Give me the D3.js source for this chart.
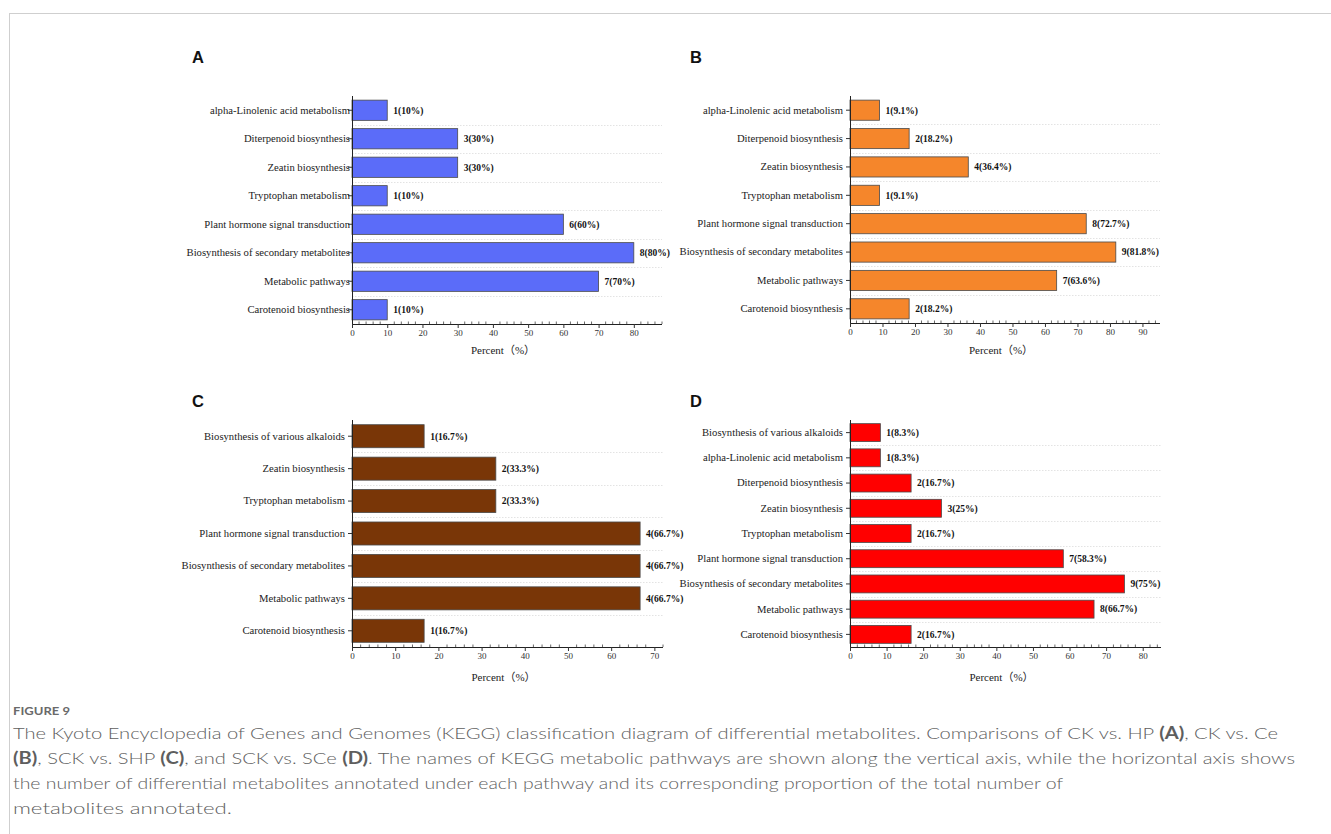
<!DOCTYPE html>
<html>
<head>
<meta charset="utf-8">
<script src="https://cdn.jsdelivr.net/npm/d3@7"></script>
<style>
  html, body { margin: 0; padding: 0; background: #fff; }
  svg { display: block; }
</style>
</head>
<body>
<svg id="fig" width="1331" height="834"></svg>
<script>
// KEGG pathway classes, counts and percentages for each comparison
const catsA = ["alpha-Linolenic acid metabolism", "Diterpenoid biosynthesis", "Zeatin biosynthesis", "Tryptophan metabolism", "Plant hormone signal transduction", "Biosynthesis of secondary metabolites", "Metabolic pathways", "Carotenoid biosynthesis"];
const countsA = [1, 3, 3, 1, 6, 8, 7, 1];
const pctA = [10, 30, 30, 10, 60, 80, 70, 10];

const catsB = ["alpha-Linolenic acid metabolism", "Diterpenoid biosynthesis", "Zeatin biosynthesis", "Tryptophan metabolism", "Plant hormone signal transduction", "Biosynthesis of secondary metabolites", "Metabolic pathways", "Carotenoid biosynthesis"];
const countsB = [1, 2, 4, 1, 8, 9, 7, 2];
const pctB = [9.1, 18.2, 36.4, 9.1, 72.7, 81.8, 63.6, 18.2];

const catsC = ["Biosynthesis of various alkaloids", "Zeatin biosynthesis", "Tryptophan metabolism", "Plant hormone signal transduction", "Biosynthesis of secondary metabolites", "Metabolic pathways", "Carotenoid biosynthesis"];
const countsC = [1, 2, 2, 4, 4, 4, 1];
const pctC = [16.7, 33.3, 33.3, 66.7, 66.7, 66.7, 16.7];

const catsD = ["Biosynthesis of various alkaloids", "alpha-Linolenic acid metabolism", "Diterpenoid biosynthesis", "Zeatin biosynthesis", "Tryptophan metabolism", "Plant hormone signal transduction", "Biosynthesis of secondary metabolites", "Metabolic pathways", "Carotenoid biosynthesis"];
const countsD = [1, 1, 2, 3, 2, 7, 9, 8, 2];
const pctD = [8.3, 8.3, 16.7, 25, 16.7, 58.3, 75, 66.7, 16.7];

const xTicks = [0, 10, 20, 30, 40, 50, 60, 70, 80, 90];
const axisTitle = "Percent\uFF08%\uFF09";

const svg = d3.select("#fig");
const serif = "'Liberation Serif', 'Times New Roman', 'Noto Sans CJK SC', serif";

// page frame
svg.append("line").attr("x1", 9).attr("x2", 1331).attr("y1", 13.5).attr("y2", 13.5)
  .attr("stroke", "#cfcfcf").attr("stroke-width", 1);
svg.append("line").attr("x1", 9.5).attr("x2", 9.5).attr("y1", 13).attr("y2", 834)
  .attr("stroke", "#cfcfcf").attr("stroke-width", 1);

const panels = [
  { letter: "A", cats: catsA, counts: countsA, pct: pctA, color: "#5b6cf9", x0: 352, x1: 662, max: 88, yTop: 96, yBot: 324, labelGap: 2, lx: 192, ly: 63, titleY: 354 },
  { letter: "B", cats: catsB, counts: countsB, pct: pctB, color: "#f5862b", x0: 850, x1: 1160, max: 95.4, yTop: 96, yBot: 323, labelGap: 7, lx: 690, ly: 63, titleY: 354 },
  { letter: "C", cats: catsC, counts: countsC, pct: pctC, color: "#793607", x0: 352, x1: 663, max: 72, yTop: 420, yBot: 647, labelGap: 7, lx: 192, ly: 407, titleY: 681 },
  { letter: "D", cats: catsD, counts: countsD, pct: pctD, color: "#ff0000", x0: 850, x1: 1161, max: 85, yTop: 420, yBot: 647, labelGap: 7, lx: 690, ly: 407, titleY: 681 }
];

panels.forEach(p => {
  const g = svg.append("g");
  const x = d3.scaleLinear().domain([0, p.max]).range([p.x0, p.x1]);
  const y = d3.scaleBand().domain(p.cats).range([p.yTop, p.yBot]).paddingInner(0.29).paddingOuter(0.145);
  const yb = d3.scaleBand().domain(p.cats).range([p.yTop, p.yBot]);

  // panel letter
  g.append("text").attr("x", p.lx).attr("y", p.ly).text(p.letter)
    .attr("font-family", "'Liberation Sans', Arial, sans-serif").attr("font-weight", "bold")
    .attr("font-size", 16.5).attr("fill", "#111");

  // dotted separators between rows
  g.selectAll(".grid").data(p.cats.slice(1)).join("line")
    .attr("x1", p.x0).attr("x2", p.x1)
    .attr("y1", d => Math.round(yb(d)) + 0.5).attr("y2", d => Math.round(yb(d)) + 0.5)
    .attr("stroke", "#dcdcdc").attr("stroke-width", 0.8).attr("stroke-dasharray", "1.5,1.5");

  const rows = p.cats.map((c, i) => ({ cat: c, n: p.counts[i], v: p.pct[i] }));

  // bars
  g.selectAll(".bar").data(rows).join("rect")
    .attr("x", x(0)).attr("y", d => y(d.cat))
    .attr("width", d => x(d.v) - x(0)).attr("height", y.bandwidth())
    .attr("fill", p.color).attr("stroke", "#4a4a4a").attr("stroke-width", 0.8);

  // value labels
  g.selectAll(".val").data(rows).join("text")
    .attr("x", d => x(d.v) + 6).attr("y", d => y(d.cat) + y.bandwidth() / 2)
    .attr("dy", "0.35em").text(d => `${d.n}(${d.v}%)`)
    .attr("font-family", serif).attr("font-weight", "bold").attr("font-size", 9.5).attr("fill", "#111");

  // y axis
  const ya = g.append("g").attr("transform", `translate(${p.x0},0)`)
    .call(d3.axisLeft(yb).tickSize(4));
  ya.select(".domain").attr("d", `M0.5,${p.yTop}V${p.yBot}`).attr("stroke", "#222");
  ya.selectAll(".tick line").attr("stroke", "#333");
  ya.selectAll(".tick text").attr("font-family", serif).attr("font-size", 10.65).attr("fill", "#222")
    .attr("x", -p.labelGap);

  // x axis
  const ticks = xTicks.filter(t => t <= p.max);
  const xa = g.append("g").attr("transform", `translate(0,${p.yBot})`)
    .call(d3.axisBottom(x).tickValues(ticks).tickSize(4).tickPadding(2).tickFormat(d3.format("d")));
  xa.select(".domain").attr("d", `M${p.x0},0.5H${p.x1}`).attr("stroke", "#222");
  xa.selectAll(".tick line").attr("stroke", "#333");
  xa.selectAll(".tick text").attr("font-family", serif).attr("font-size", 9).attr("fill", "#333");

  // minor ticks every 2 units
  const minor = d3.range(0, p.max + 0.001, 2).filter(t => t % 10 !== 0);
  g.selectAll(".minor").data(minor).join("line")
    .attr("x1", d => x(d)).attr("x2", d => x(d))
    .attr("y1", p.yBot).attr("y2", p.yBot - 2.5)
    .attr("stroke", "#444").attr("stroke-width", 0.8);

  // axis title
  g.append("text").attr("x", (p.x0 + p.x1) / 2 - 4).attr("y", p.titleY)
    .attr("text-anchor", "middle").text(axisTitle)
    .attr("font-family", serif).attr("font-size", 11).attr("fill", "#222");
});

// caption
const capFont = "Lato, 'Open Sans', 'Noto Sans', sans-serif";
svg.append("text").attr("x", 13).attr("y", 715).text("FIGURE 9")
  .attr("font-family", capFont).attr("font-size", 12).attr("font-weight", "bold").attr("fill", "#6a6a6a")
  .attr("textLength", 57).attr("lengthAdjust", "spacingAndGlyphs");

const capLines = [
  { parts: [["The Kyoto Encyclopedia of Genes and Genomes (KEGG) classification diagram of differential metabolites. Comparisons of CK vs. HP ", 0], ["(A)", 1], [", CK vs. Ce", 0]], w: 1265 },
  { parts: [["(B)", 1], [", SCK vs. SHP ", 0], ["(C)", 1], [", and SCK vs. SCe ", 0], ["(D)", 1], [". The names of KEGG metabolic pathways are shown along the vertical axis, while the horizontal axis shows", 0]], w: 1282 },
  { parts: [["the number of differential metabolites annotated under each pathway and its corresponding proportion of the total number of", 0]], w: 1050 },
  { parts: [["metabolites annotated.", 0]], w: 219 }
];
capLines.forEach((ln, i) => {
  const t = svg.append("text").attr("x", 13).attr("y", 739 + i * 25)
    .attr("font-family", capFont).attr("font-size", 16.5).attr("fill", "#5e5e5e")
    .attr("textLength", ln.w).attr("lengthAdjust", "spacingAndGlyphs");
  ln.parts.forEach(([s, b]) => {
    t.append("tspan").text(s).attr("font-weight", b ? "bold" : 300);
  });
});
</script>
</body>
</html>
